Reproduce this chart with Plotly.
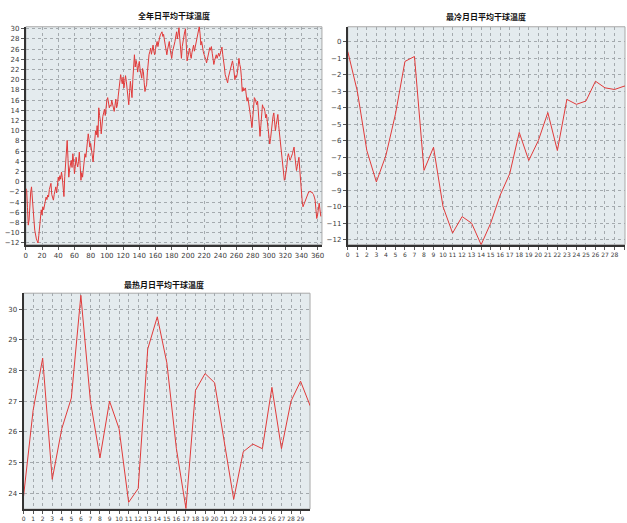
import plotly.graph_objects as go

# Daily mean dry-bulb temperature for the whole year (day 0..364)
annual_temp = [
    -1.3, -1.7, -5.0, -8.5, -7.5, -4.0, -2.0, -1.0, -4.0, -6.5,
    -7.5, -9.5, -10.7, -11.2, -11.6, -12.0, -10.5, -8.5, -6.9, -5.5,
    -6.5, -4.9, -5.5, -4.2, -3.8, -3.0, -3.5, -2.6, -3.0, -1.5,
    -0.8, -0.3, -2.5, -3.2, -3.6, -2.5, -1.5, -1.0, -2.2, -0.5,
    0.9, 0.2, 1.2, 0.5, 1.9, 0.8, -1.0, -2.9, 1.0, 3.5,
    6.0, 8.1, 4.5, 0.9, 2.5, 3.2, 4.2, 2.8, 5.5, 3.8,
    1.6, 3.0, 4.8, 3.6, 2.9, 4.0, 5.8, 3.2, 0.3, 1.8,
    0.9, 2.5, 4.0, 5.5, 4.8, 6.1, 7.5, 9.4, 8.2, 6.8,
    7.5, 5.8, 4.9, 3.9, 6.0, 8.5, 10.0, 9.2, 11.0, 8.7,
    14.5, 13.0, 11.9, 9.4, 11.5, 12.8, 13.5, 14.2, 13.0, 15.0,
    16.0, 16.5, 15.2, 14.5, 15.0, 14.8, 16.0, 15.3, 14.2, 13.8,
    15.0, 16.2, 14.5, 15.1, 16.8, 18.5, 19.8, 21.0, 20.0, 19.2,
    20.5, 18.4, 19.5, 20.8, 19.7, 18.0, 16.5, 15.1, 17.5, 19.7,
    18.2, 16.5, 20.0, 23.0, 24.9, 22.5, 23.8, 23.0, 21.5, 22.8,
    23.6, 22.0, 21.0, 20.3, 22.2, 21.6, 19.5, 17.7, 18.5, 19.0,
    21.5, 23.5, 24.9, 25.5, 26.2, 25.0, 25.8, 26.8, 25.5, 24.9,
    26.0, 27.0, 27.5, 26.5, 27.8, 28.2, 28.8, 29.0, 29.4, 28.5,
    28.9, 27.8, 26.5, 25.5, 24.9, 26.0, 27.2, 27.5, 26.0, 25.0,
    24.2, 25.5, 26.5, 26.8, 27.5, 28.5, 29.4, 28.0, 29.0, 30.2,
    28.0, 25.2, 24.2, 26.5, 27.8, 28.6, 29.4, 30.0, 26.0, 23.7,
    24.5, 25.5, 26.2, 25.0, 24.2, 25.3, 26.0, 26.8, 25.6, 26.5,
    27.2, 27.5, 28.6, 29.5, 30.4, 29.0, 26.8, 27.5, 26.2, 25.5,
    24.9, 24.5, 24.0, 23.3, 24.2, 25.0, 25.5, 26.3, 25.8, 26.5,
    25.2, 24.0, 23.0, 23.8, 24.5, 24.9, 24.2, 25.0, 25.2, 24.6,
    25.3, 25.8, 26.4, 24.9, 24.0, 22.5, 21.0, 20.5, 20.0, 19.4,
    20.5, 21.2, 21.6, 22.5, 23.2, 23.7, 22.8, 21.5, 20.0, 20.8,
    20.5, 21.3, 22.5, 24.2, 23.0, 22.3, 20.5, 17.7, 18.5, 17.8,
    18.2, 18.4, 17.0, 15.8, 16.5, 15.0, 14.2, 13.2, 12.0, 10.6,
    12.5, 14.8, 16.5, 16.2, 15.5, 15.1, 15.8, 12.5, 10.0, 8.9,
    11.0, 12.6, 15.1, 14.5, 14.5, 13.8, 12.5, 13.2, 11.8, 10.6,
    9.0, 7.4, 8.5, 10.2, 11.9, 12.8, 13.5, 11.5, 10.0, 11.2,
    12.5, 13.2, 11.0, 9.5, 8.0, 6.2, 4.8, 3.2, 1.5, 0.3,
    0.8, 1.6, 3.0, 4.8, 5.5, 4.8, 4.2, 4.6, 5.0, 5.5,
    6.2, 6.8, 5.0, 3.5, 2.2, 3.0, 4.0, 4.8, 2.5, -0.4,
    -2.0, -3.8, -4.9, -4.5, -4.0, -3.6, -3.0, -2.6, -2.3, -2.0,
    -2.0, -1.8, -2.1, -2.0, -2.3, -2.5, -3.0, -3.6, -5.5, -7.2,
    -6.5, -5.0, -4.2, -5.5, -6.8,
]
annual_days = list(range(len(annual_temp)))

# Coldest month, daily mean dry-bulb temperature (day 0..30)
cold_temp = [
    -0.6, -3.0, -6.6, -8.5, -6.9, -4.4, -1.2, -0.9, -7.8, -6.4,
    -10.0, -11.6, -10.6, -11.0, -12.3, -11.0, -9.3, -8.0, -5.5, -7.2,
    -6.0, -4.3, -6.6, -3.5, -3.8, -3.6, -2.4, -2.8, -2.9, -2.7,
    -2.6,
]
cold_days = list(range(len(cold_temp)))

# Hottest month, daily mean dry-bulb temperature (day 0..30)
hot_temp = [
    23.9, 26.7, 28.4, 24.45, 26.1, 27.1, 30.45, 27.0, 25.15, 27.0,
    26.1, 23.7, 24.15, 28.7, 29.75, 28.25, 25.45, 23.5, 27.35, 27.9,
    27.6, 25.7, 23.8, 25.35, 25.6, 25.45, 27.45, 25.45, 27.0, 27.65,
    26.85,
]
hot_days = list(range(len(hot_temp)))

titles = ["全年日平均干球温度", "最冷月日平均干球温度", "最热月日平均干球温度"]

W, H = 627, 523
LINE_RED = "#e03a3a"
PLOT_BG = "#e4ebee"
GRID = "#a4aaae"
TICK_FONT = dict(family="DejaVu Sans", size=7, color="#3a3a3a")
TITLE_FONT = dict(family="Noto Sans CJK SC", size=8, color="#111111")


def px_dom_x(a, b):
    return [a / W, b / W]


def px_dom_y(top, bottom):
    return [1 - bottom / H, 1 - top / H]


fig = go.Figure()

fig.add_trace(go.Scatter(x=annual_days, y=annual_temp, mode="lines",
                         line=dict(color=LINE_RED, width=1), xaxis="x", yaxis="y",
                         showlegend=False, hoverinfo="x+y"))
fig.add_trace(go.Scatter(x=cold_days, y=cold_temp, mode="lines",
                         line=dict(color=LINE_RED, width=1), xaxis="x2", yaxis="y2",
                         showlegend=False, hoverinfo="x+y"))
fig.add_trace(go.Scatter(x=hot_days, y=hot_temp, mode="lines",
                         line=dict(color=LINE_RED, width=1), xaxis="x3", yaxis="y3",
                         showlegend=False, hoverinfo="x+y"))

axis_common = dict(
    showgrid=True, gridcolor=GRID, griddash="dot", gridwidth=1,
    zeroline=False, showline=True, linecolor="#333333", linewidth=2,
    ticks="outside", ticklen=3, tickcolor="#555555", tickwidth=1,
    tickfont=TICK_FONT, tickangle=0, fixedrange=True,
)
day_axis = dict(axis_common, tickfont=dict(TICK_FONT, size=6))

# panel geometry in pixels
p1 = dict(x=(24, 322), y=(25, 245))
p2 = dict(x=(348, 627), y=(25, 245))
p3 = dict(x=(21.7, 310), y=(294, 512))

fig.update_layout(
    width=W, height=H,
    margin=dict(l=0, r=0, t=0, b=0),
    paper_bgcolor="white",
    plot_bgcolor=PLOT_BG,
    showlegend=False,
    xaxis=dict(axis_common, domain=px_dom_x(*p1["x"]), range=[0, 365.4],
               tick0=0, dtick=20, anchor="y"),
    yaxis=dict(axis_common, domain=px_dom_y(*p1["y"]), range=[-12.33, 30.39],
               tick0=0, dtick=2, anchor="x"),
    xaxis2=dict(day_axis, domain=px_dom_x(*p2["x"]), range=[0, 29.1],
                tick0=0, dtick=1, anchor="y2"),
    yaxis2=dict(axis_common, domain=px_dom_y(*p2["y"]), range=[-12.3, 0.9],
                tick0=0, dtick=1, anchor="x2"),
    xaxis3=dict(day_axis, domain=px_dom_x(*p3["x"]), range=[0, 29.99],
                tick0=0, dtick=1, anchor="y3"),
    yaxis3=dict(axis_common, domain=px_dom_y(*p3["y"]), range=[23.48, 30.52],
                tick0=0, dtick=1, anchor="x3"),
)

# thin frame around each plot area (top and right edges)
for xr, yr in (("x", "y"), ("x2", "y2"), ("x3", "y3")):
    fig.add_shape(type="rect", xref=f"{xr} domain", yref=f"{yr} domain",
                  x0=0, x1=1, y0=0, y1=1, line=dict(color="#a9a9a9", width=1),
                  layer="below")

# panel titles
for title, cx, cy in ((titles[0], 173, 14), (titles[1], 487, 15), (titles[2], 163, 285)):
    fig.add_annotation(text=f"<b>{title}</b>", x=cx / W, y=1 - cy / H,
                       xref="paper", yref="paper", showarrow=False,
                       xanchor="center", yanchor="middle", font=TITLE_FONT)

fig.write_html("out.html")
